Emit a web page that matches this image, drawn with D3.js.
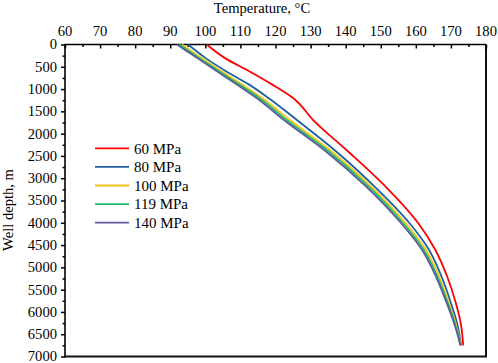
<!DOCTYPE html>
<html>
<head>
<meta charset="utf-8">
<script src="https://cdn.jsdelivr.net/npm/d3@7"></script>
<style>
  body { margin: 0; background: #fff; }
  text { font-family: "Liberation Serif", "Times New Roman", serif; fill: #000; }
</style>
</head>
<body>
<div id="chart"></div>
<script>
// depths shared by every curve (m)
let depths = [0, 300, 600, 900, 1200, 1700, 2400, 3200, 4000, 4600, 5200, 5800, 6300, 6750];

let t60 = [100.4, 105.5, 112.5, 119.1, 125.0, 130.8, 140.7, 151.5, 160.6, 165.5, 168.9, 171.4, 172.9, 173.5];
let t80 = [95.1, 100.0, 105.9, 112.5, 118.0, 126.2, 137.3, 148.4, 158.1, 163.7, 167.3, 170.0, 171.9, 172.9];
let t100 = [93.3, 98.9, 104.6, 110.5, 116.2, 124.2, 136.0, 147.4, 157.0, 162.8, 166.6, 169.4, 171.5, 172.8];
let t119 = [92.6, 98.2, 103.9, 109.7, 115.4, 123.3, 135.2, 146.7, 156.3, 162.2, 166.1, 169.1, 171.3, 172.75];
let t140 = [91.9, 97.6, 103.3, 109.0, 114.6, 122.5, 134.4, 146.0, 155.7, 161.7, 165.7, 168.8, 171.1, 172.7];

let seriesNames = ["60 MPa", "80 MPa", "100 MPa", "119 MPa", "140 MPa"];
let seriesColors = ["#ff0000", "#1f5fa0", "#f8c21a", "#1dbd66", "#5e5b9e"];
let seriesTemps = [t60, t80, t100, t119, t140];

let xTicks = d3.range(60, 181, 10);
let yTicks = d3.range(0, 7001, 500);

const width = 498, height = 363;
const plot = { left: 65, right: 486, top: 44.5, bottom: 356.5 };

let svg = d3.select("#chart").append("svg")
  .attr("width", width)
  .attr("height", height);

let x = d3.scaleLinear().domain([60, 180]).range([plot.left, plot.right]);
let y = d3.scaleLinear().domain([0, 7000]).range([plot.top, plot.bottom]);

// frame right + bottom
svg.append("path")
  .attr("d", `M${plot.left},${plot.bottom}H${plot.right}V${plot.top}`)
  .attr("fill", "none")
  .attr("stroke", "#111")
  .attr("stroke-width", 2);

// top axis, ticks point inward
let xAxis = svg.append("g").attr("transform", `translate(0,${plot.top})`);
xAxis.call(d3.axisBottom(x).tickValues(d3.range(65, 180, 10)).tickSize(2.5).tickFormat(""));
xAxis.append("g").call(d3.axisBottom(x).tickValues(xTicks).tickSize(4).tickFormat(""));
xAxis.selectAll(".domain").remove();
xAxis.selectAll("line").attr("stroke", "#000").attr("stroke-width", 1.5);
xAxis.selectAll(".lbl")
  .data(xTicks)
  .enter()
  .append("text")
  .attr("x", (d) => x(d))
  .attr("y", -9)
  .attr("text-anchor", "middle")
  .style("font-size", "14.6px")
  .text((d) => d);

// left axis, ticks point outward
let yAxis = svg.append("g").attr("transform", `translate(${plot.left},0)`);
yAxis.call(d3.axisLeft(y).tickValues(d3.range(250, 7000, 500)).tickSize(2.5).tickFormat(""));
yAxis.append("g").call(d3.axisLeft(y).tickValues(yTicks).tickSize(4).tickFormat(""));
yAxis.selectAll(".domain").remove();
yAxis.selectAll("line").attr("stroke", "#000").attr("stroke-width", 1.5);
yAxis.selectAll(".lbl")
  .data(yTicks)
  .enter()
  .append("text")
  .attr("x", -8)
  .attr("y", (d) => y(d))
  .attr("dy", "0.34em")
  .attr("text-anchor", "end")
  .style("font-size", "14.6px")
  .text((d) => d);

svg.append("path")
  .attr("d", `M${plot.left},${plot.bottom + 1}V${plot.top}H${plot.right}`)
  .attr("fill", "none")
  .attr("stroke", "#000")
  .attr("stroke-width", 1.6);

// titles
svg.append("text")
  .attr("x", 262)
  .attr("y", 13)
  .attr("text-anchor", "middle")
  .style("font-size", "14.6px")
  .text("Temperature, °C");

svg.append("text")
  .attr("transform", "translate(13,210) rotate(-90)")
  .attr("text-anchor", "middle")
  .style("font-size", "14.6px")
  .text("Well depth, m");

// curves
let line = d3.line()
  .x((d) => x(d[0]))
  .y((d) => y(d[1]))
  .curve(d3.curveMonotoneY);

seriesTemps.forEach((temps, i) => {
  let pts = temps.map((t, j) => [t, depths[j]]);
  svg.append("path")
    .datum(pts)
    .attr("d", line)
    .attr("fill", "none")
    .attr("stroke", seriesColors[i])
    .attr("stroke-width", 1.8);
});

// legend
let legend = svg.append("g");
seriesNames.forEach((name, i) => {
  let ly = 148.3 + i * 18.6;
  legend.append("line")
    .attr("x1", 95).attr("x2", 129)
    .attr("y1", ly).attr("y2", ly)
    .attr("stroke", seriesColors[i])
    .attr("stroke-width", 1.8);
  legend.append("text")
    .attr("x", 134)
    .attr("y", ly)
    .attr("dy", "0.35em")
    .style("font-size", "15px")
    .text(name);
});
</script>
</body>
</html>
